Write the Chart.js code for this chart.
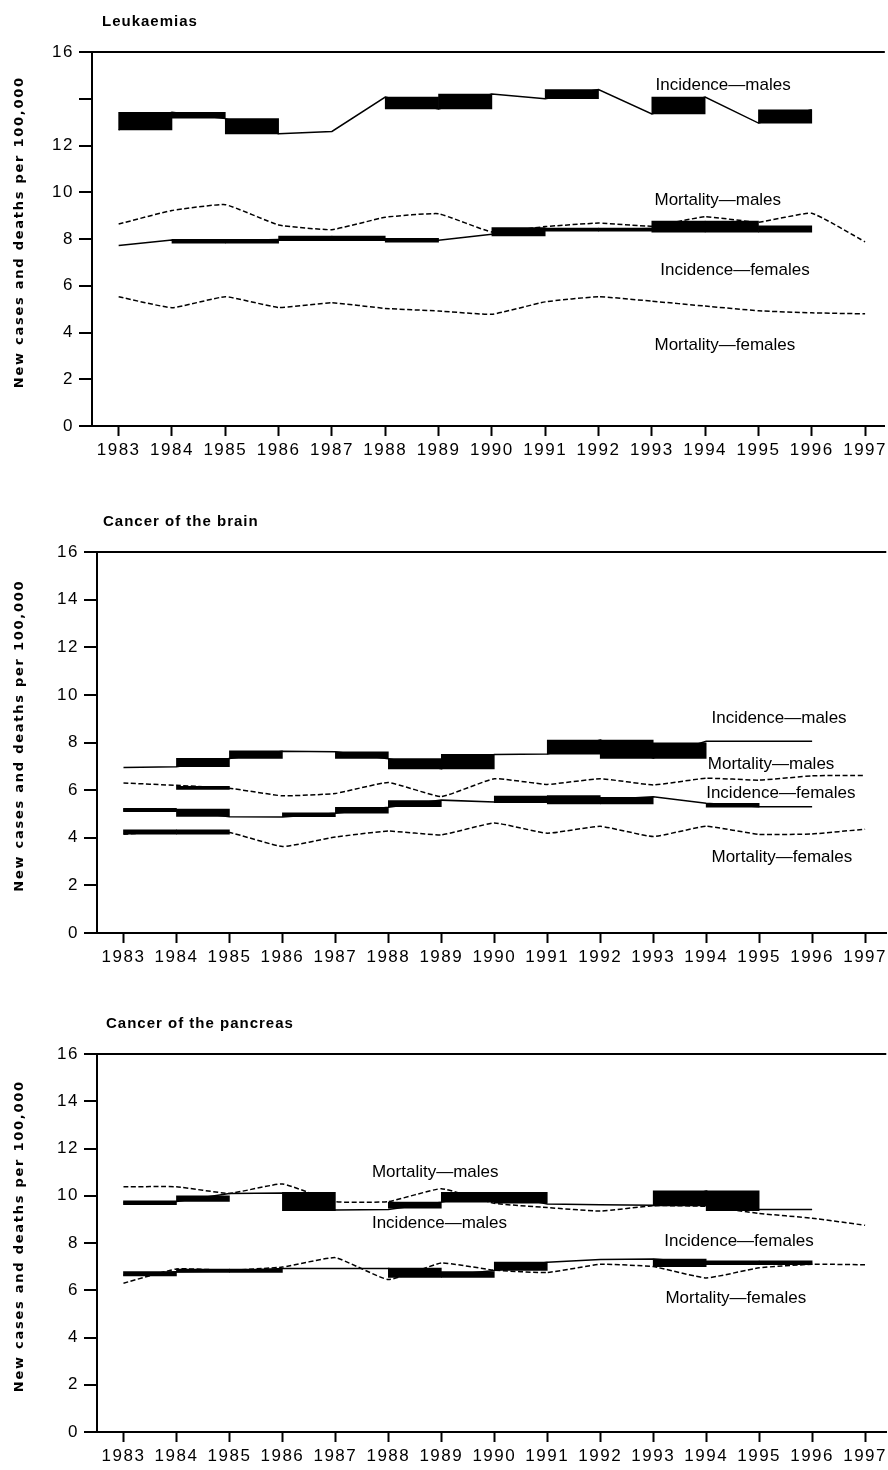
<!DOCTYPE html>
<html>
<head>
<meta charset="utf-8">
<title>New cases and deaths per 100,000</title>
<script src="https://cdn.jsdelivr.net/npm/chart.js@4/dist/chart.umd.min.js"></script>
<style>
  html, body { margin: 0; padding: 0; background: #fff; }
  body { width: 888px; height: 1470px; position: relative; overflow: hidden; }
  canvas { position: absolute; left: 0; }
</style>
</head>
<body>
<canvas id="leuk" width="888" height="480" style="top:0px"></canvas>
<canvas id="brain" width="888" height="490" style="top:480px"></canvas>
<canvas id="panc" width="888" height="510" style="top:960px"></canvas>
<script>
// Calendar years on the horizontal axis
const years = [1983, 1984, 1985, 1986, 1987, 1988, 1989, 1990, 1991, 1992, 1993, 1994, 1995, 1996, 1997];
const xTickLabels = ['1983', '1984', '1985', '1986', '1987', '1988', '1989', '1990', '1991', '1992', '1993', '1994', '1995', '1996', '1997'];
const yTickValues = [0, 2, 4, 6, 8, 10, 12, 14, 16];
const leukYTickLabels = ['0', '2', '4', '6', '8', '10', '12', '', '16'];
const brainYTickLabels = ['0', '2', '4', '6', '8', '10', '12', '14', '16'];
const pancYTickLabels = ['0', '2', '4', '6', '8', '10', '12', '14', '16'];
const yTitle = 'New cases and deaths per 100,000';

// Rates per year (1983-1997); bands are [low, high] per one-year interval (null = none)
// Leukaemias
const leukIncMales = [12.67, 13.42, 13.15, 12.5, 12.6, 14.07, 13.56, 14.2, 14.0, 14.39, 13.35, 14.07, 12.96, 13.53, null];
const leukIncMalesBands = [[12.67, 13.42], [13.17, 13.42], [12.5, 13.15], null, null, [13.56, 14.07], [13.56, 14.2], null, [14.0, 14.39], null, [13.35, 14.07], null, [12.96, 13.53], null];
const leukMortMales = [8.64, 9.22, 9.47, 8.6, 8.4, 8.93, 9.08, 8.3, 8.53, 8.68, 8.55, 8.95, 8.72, 9.1, 7.88];
const leukIncFemales = [7.72, 7.96, 7.92, 7.98, 8.05, 8.0, 7.95, 8.2, 8.4, 8.4, 8.45, 8.55, 8.45, 8.5, null];
const leukIncFemalesBands = [null, [7.82, 7.99], [7.82, 7.99], [7.93, 8.12], [7.93, 8.12], [7.86, 8.03], null, [8.13, 8.49], [8.33, 8.47], [8.33, 8.47], [8.29, 8.77], [8.29, 8.77], [8.29, 8.56], null];
const leukMortFemales = [5.53, 5.06, 5.53, 5.07, 5.27, 5.03, 4.92, 4.78, 5.31, 5.53, 5.34, 5.13, 4.93, 4.84, 4.8];

// Cancer of the brain
const brainIncMales = [6.95, 6.98, 7.33, 7.63, 7.61, 7.32, 6.9, 7.5, 7.52, 8.1, 7.35, 8.05, 8.05, 8.05, null];
const brainIncMalesBands = [null, [6.98, 7.33], [7.33, 7.65], null, [7.33, 7.61], [6.89, 7.32], [6.89, 7.5], null, [7.51, 8.1], [7.33, 8.1], [7.33, 7.99], null, null, null];
const brainMortMales = [6.3, 6.2, 6.08, 5.76, 5.86, 6.32, 5.73, 6.48, 6.24, 6.48, 6.22, 6.5, 6.42, 6.6, 6.62];
const brainMortMalesBands = [null, [6.03, 6.15], null, null, null, null, null, null, null, null, null, null, null, null];
const brainIncFemales = [5.17, 5.17, 4.88, 4.87, 5.03, 5.28, 5.58, 5.5, 5.6, 5.6, 5.72, 5.45, 5.3, 5.3, null];
const brainIncFemalesBands = [[5.1, 5.24], [4.9, 5.2], null, [4.89, 5.05], [5.03, 5.28], [5.31, 5.56], null, [5.47, 5.75], [5.42, 5.77], [5.42, 5.7], null, [5.28, 5.45], null, null];
const brainMortFemales = [4.15, 4.28, 4.22, 3.63, 4.03, 4.28, 4.12, 4.62, 4.19, 4.48, 4.05, 4.48, 4.14, 4.16, 4.36];
const brainMortFemalesBands = [[4.15, 4.33], [4.15, 4.33], null, null, null, null, null, null, null, null, null, null, null, null];

// Cancer of the pancreas
const pancIncMales = [9.7, 9.76, 10.1, 10.12, 9.4, 9.42, 9.73, 10.12, 9.65, 9.62, 9.6, 10.2, 9.42, 9.42, null];
const pancIncMalesBands = [[9.62, 9.78], [9.76, 10.0], null, [9.37, 10.14], null, [9.47, 9.73], [9.73, 10.14], [9.69, 10.14], null, null, [9.57, 10.21], [9.37, 10.21], null, null];
const pancMortMales = [10.38, 10.38, 10.1, 10.5, 9.75, 9.75, 10.3, 9.68, 9.5, 9.35, 9.58, 9.55, 9.25, 9.05, 8.75];
const pancIncFemales = [6.65, 6.78, 6.82, 6.92, 6.92, 6.92, 6.6, 6.84, 7.19, 7.3, 7.32, 7.15, 7.15, 7.15, null];
const pancIncFemalesBands = [[6.61, 6.79], [6.75, 6.9], [6.75, 6.9], null, null, [6.54, 6.94], [6.54, 6.79], [6.84, 7.19], null, null, [7.0, 7.32], [7.08, 7.25], [7.08, 7.25], null];
const pancMortFemales = [6.3, 6.9, 6.85, 6.98, 7.38, 6.45, 7.15, 6.85, 6.75, 7.1, 7.0, 6.52, 6.95, 7.1, 7.08];

const FONT = '"Liberation Sans", Arial, Helvetica, sans-serif';

function lineSet(values, dashed) {
  return {
    type: 'line',
    data: years.map((yr, i) => ({ x: yr, y: values[i] })),
    borderColor: '#000',
    borderWidth: 1.5,
    borderDash: dashed ? [5, 2.5] : [],
    tension: dashed ? 0.12 : 0,
    pointRadius: 0,
    fill: false,
    spanGaps: false
  };
}

function bandSet(bands) {
  return {
    type: 'bar',
    data: bands.map((b, i) => (b ? { x: years[i] + 0.5, y: b } : null)).filter(Boolean),
    backgroundColor: '#000',
    borderWidth: 0,
    grouped: false,
    barPercentage: 1,
    categoryPercentage: 1,
    minBarLength: 3
  };
}

// Draws the panel heading, curve names and the rotated axis title
const panelText = {
  id: 'panelText',
  beforeDraw(chart) {
    chart.ctx.letterSpacing = '1.5px';
  },
  afterDraw(chart, args, opts) {
    const { ctx, chartArea: a, scales: { x, y } } = chart;
    ctx.save();
    ctx.fillStyle = '#000';
    ctx.textAlign = 'left';
    ctx.textBaseline = 'alphabetic';

    ctx.letterSpacing = '1px';
    ctx.font = 'bold 15px ' + FONT;
    ctx.fillText(opts.title, a.left + opts.titleDx, a.top - 26);

    ctx.letterSpacing = '0px';
    ctx.font = '17px ' + FONT;
    opts.labels.forEach(l => {
      ctx.fillText(l.text, x.getPixelForValue(l.at[0]), y.getPixelForValue(l.at[1]));
    });

    ctx.font = 'bold 13px "DejaVu Sans", sans-serif';
    const w0 = ctx.measureText(yTitle).width;
    const sp = (312 - w0) / yTitle.length;
    ctx.letterSpacing = sp + 'px';
    ctx.translate(20, (a.top + a.bottom) / 2 - 6);
    ctx.rotate(-Math.PI / 2);
    ctx.textAlign = 'center';
    ctx.textBaseline = 'middle';
    ctx.fillText(yTitle, sp / 2, 0);
    ctx.restore();
    ctx.letterSpacing = '0px';
  }
};

function makePanel(id, p) {
  const datasets = [];
  p.series.forEach(s => {
    if (s.bands) datasets.push(bandSet(s.bands));
    datasets.push(lineSet(s.values, s.dashed));
  });
  return new Chart(document.getElementById(id), {
    type: 'line',
    data: { datasets },
    plugins: [panelText],
    options: {
      responsive: false,
      animation: false,
      devicePixelRatio: 1,
      events: [],
      layout: { padding: { top: p.padTop, left: 0, right: 0, bottom: 0 } },
      plugins: {
        legend: { display: false },
        tooltip: { enabled: false },
        panelText: { title: p.title, titleDx: p.titleDx, labels: p.labels }
      },
      scales: {
        x: {
          type: 'linear',
          min: 1982.5,
          max: p.xMax,
          offset: false,
          afterFit: s => { s.height = p.xHeight; },
          afterBuildTicks: s => { s.ticks = years.map(v => ({ value: v })); },
          ticks: {
            autoSkip: false, maxRotation: 0, minRotation: 0, padding: 4, color: '#000',
            font: { family: FONT, size: 17 },
            callback: (v, i) => xTickLabels[i]
          },
          grid: { offset: false, drawOnChartArea: false, color: '#000', tickLength: 10, tickWidth: 2, tickColor: '#000' },
          border: { display: true, color: '#000', width: 2 }
        },
        y: {
          type: 'linear',
          min: 0,
          max: 16,
          afterFit: s => { s.width = p.axisLeft; },
          afterBuildTicks: s => { s.ticks = yTickValues.map(v => ({ value: v })); },
          ticks: {
            padding: 5, color: '#000',
            font: { family: FONT, size: 17 },
            callback: (v, i) => p.yTickLabels[i]
          },
          grid: {
            color: c => (c.tick && c.tick.value === 16 ? '#000' : 'rgba(0,0,0,0)'),
            lineWidth: 2, tickLength: 13, tickWidth: 2, tickColor: '#000'
          },
          border: { display: true, color: '#000', width: 2 }
        }
      }
    }
  });
}

makePanel('leuk', {
  title: 'Leukaemias', titleDx: 10, padTop: 52, xHeight: 54, axisLeft: 92, xMax: 1997.37,
  yTickLabels: leukYTickLabels,
  series: [
    { values: leukIncMales, bands: leukIncMalesBands },
    { values: leukMortMales, dashed: true },
    { values: leukIncFemales, bands: leukIncFemalesBands },
    { values: leukMortFemales, dashed: true }
  ],
  labels: [
    { text: 'Incidence\u2014males', at: [1993.07, 14.39] },
    { text: 'Mortality\u2014males', at: [1993.05, 9.46] },
    { text: 'Incidence\u2014females', at: [1993.16, 6.46] },
    { text: 'Mortality\u2014females', at: [1993.05, 3.24] }
  ]
});

makePanel('brain', {
  title: 'Cancer of the brain', titleDx: 6, padTop: 72, xHeight: 37, axisLeft: 97, xMax: 1997.4,
  yTickLabels: brainYTickLabels,
  series: [
    { values: brainIncMales, bands: brainIncMalesBands },
    { values: brainMortMales, bands: brainMortMalesBands, dashed: true },
    { values: brainIncFemales, bands: brainIncFemalesBands },
    { values: brainMortFemales, bands: brainMortFemalesBands, dashed: true }
  ],
  labels: [
    { text: 'Incidence\u2014males', at: [1994.10, 8.81] },
    { text: 'Mortality\u2014males', at: [1994.03, 6.89] },
    { text: 'Incidence\u2014females', at: [1994.0, 5.68] },
    { text: 'Mortality\u2014females', at: [1994.10, 3.0] }
  ]
});

makePanel('panc', {
  title: 'Cancer of the pancreas', titleDx: 9, padTop: 94, xHeight: 38, axisLeft: 97, xMax: 1997.4,
  yTickLabels: pancYTickLabels,
  series: [
    { values: pancIncMales, bands: pancIncMalesBands },
    { values: pancMortMales, dashed: true },
    { values: pancIncFemales, bands: pancIncFemalesBands },
    { values: pancMortFemales, dashed: true }
  ],
  labels: [
    { text: 'Mortality\u2014males', at: [1987.69, 10.8] },
    { text: 'Incidence\u2014males', at: [1987.69, 8.64] },
    { text: 'Incidence\u2014females', at: [1993.21, 7.88] },
    { text: 'Mortality\u2014females', at: [1993.23, 5.47] }
  ]
});
</script>
</body>
</html>
